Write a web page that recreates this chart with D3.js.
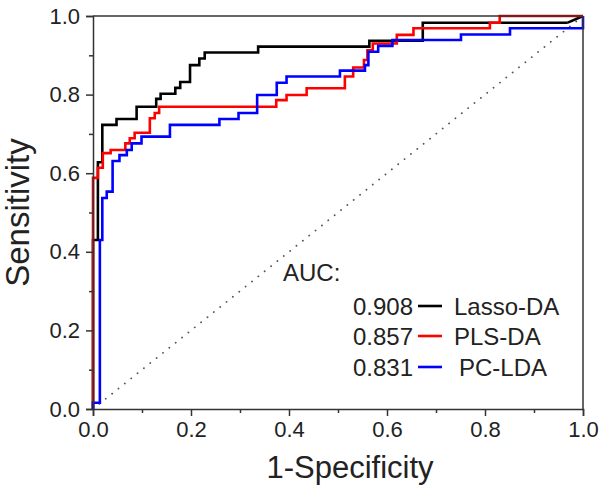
<!DOCTYPE html>
<html>
<head>
<meta charset="utf-8">
<script src="https://cdn.jsdelivr.net/npm/d3@7"></script>
<style>
  html, body { margin: 0; padding: 0; background: #fff; }
  svg { display: block; }
  text { font-family: "Liberation Sans", Arial, sans-serif; fill: #222; }
</style>
</head>
<body>
<svg id="chart" width="600" height="488"></svg>
<script>
// ---- data (ROC rise points: fpr, tpr after each vertical rise) ----
const lassoFpr = [0, 0, 0.01, 0.019, 0.048, 0.089, 0.129, 0.138, 0.168, 0.178, 0.198, 0.217, 0.228, 0.337, 0.564, 0.673, 0.969];
const lassoTpr = [0, 0.43, 0.628, 0.723, 0.738, 0.769, 0.789, 0.802, 0.817, 0.832, 0.875, 0.892, 0.907, 0.922, 0.937, 0.983, 0.983];
const lassoEndFpr = [0.969, 1];
const lassoEndTpr = [0.983, 1];

const plsFpr = [0, 0, 0.01, 0.02, 0.036, 0.066, 0.075, 0.085, 0.116, 0.126, 0.135, 0.374, 0.395, 0.436, 0.514, 0.531, 0.553, 0.56, 0.571, 0.62, 0.654, 0.81, 0.83, 1];
const plsTpr = [0, 0.588, 0.614, 0.651, 0.659, 0.676, 0.689, 0.703, 0.74, 0.753, 0.769, 0.786, 0.799, 0.816, 0.846, 0.869, 0.888, 0.913, 0.93, 0.952, 0.969, 0.983, 1, 1];

const pcFpr = [0, 0, 0.014, 0.019, 0.028, 0.04, 0.054, 0.069, 0.079, 0.099, 0.157, 0.258, 0.297, 0.335, 0.375, 0.395, 0.504, 0.555, 0.562, 0.582, 0.611, 0.751, 0.851, 1];
const pcTpr = [0, 0.016, 0.43, 0.537, 0.553, 0.631, 0.646, 0.659, 0.676, 0.693, 0.723, 0.738, 0.753, 0.799, 0.83, 0.846, 0.861, 0.875, 0.909, 0.924, 0.939, 0.953, 0.969, 1];

const chanceLine = [0, 1];

const majorTicks = [0, 0.2, 0.4, 0.6, 0.8, 1.0];
const minorTicks = [0.1, 0.3, 0.5, 0.7, 0.9];

const legendAUC = ["0.908", "0.857", "0.831"];
const legendNames = ["Lasso-DA", "PLS-DA", "PC-LDA"];
const legendColors = ["#000000", "#ff0000", "#0000ff"];

// ---- layout ----
const svg = d3.select("#chart");
const L = 93, R = 583, T = 16, B = 409;
const x = d3.scaleLinear().domain([0, 1]).range([L, R]);
const y = d3.scaleLinear().domain([0, 1]).range([B, T]);
const axisColor = "#333";

// chance diagonal
svg.append("path")
  .attr("d", d3.line().x(d => x(d)).y(d => y(d))(chanceLine))
  .attr("fill", "none").attr("stroke", "#555").attr("stroke-width", 1.8)
  .attr("stroke-linecap", "round")
  .attr("stroke-dasharray", "0.1,8.05");

function zipPts(f, t) { return f.map((v, i) => [v, t[i]]); }
const stepLine = d3.line().x(d => x(d[0])).y(d => y(d[1])).curve(d3.curveStepAfter);
const linLine = d3.line().x(d => x(d[0])).y(d => y(d[1]));

const lw = 2.6;
// Lasso-DA
svg.append("path").attr("d", stepLine(zipPts(lassoFpr, lassoTpr)))
  .attr("fill", "none").attr("stroke", legendColors[0]).attr("stroke-width", lw);
svg.append("path").attr("d", linLine(zipPts(lassoEndFpr, lassoEndTpr)))
  .attr("fill", "none").attr("stroke", legendColors[0]).attr("stroke-width", lw);
// PLS-DA
svg.append("path").attr("d", stepLine(zipPts(plsFpr, plsTpr)))
  .attr("fill", "none").attr("stroke", legendColors[1]).attr("stroke-width", lw);
// PC-LDA
svg.append("path").attr("d", stepLine(zipPts(pcFpr, pcTpr)))
  .attr("fill", "none").attr("stroke", legendColors[2]).attr("stroke-width", lw);

// frame (top & right)
svg.append("line").attr("x1", L).attr("x2", R).attr("y1", T).attr("y2", T)
  .attr("stroke", axisColor).attr("stroke-width", 1.5);
svg.append("line").attr("x1", R).attr("x2", R).attr("y1", T).attr("y2", B)
  .attr("stroke", axisColor).attr("stroke-width", 1.5);

// axes
const fmt = d3.format(".1f");
const xAxis = svg.append("g").attr("transform", `translate(0,${B})`)
  .call(d3.axisBottom(x).tickValues(majorTicks).tickFormat(fmt).tickSize(7).tickPadding(5));
const xMinor = svg.append("g").attr("transform", `translate(0,${B})`)
  .call(d3.axisBottom(x).tickValues(minorTicks).tickFormat("").tickSize(4));
const yAxis = svg.append("g").attr("transform", `translate(${L},0)`)
  .call(d3.axisLeft(y).tickValues(majorTicks).tickFormat(fmt).tickSize(7).tickPadding(6));
const yMinor = svg.append("g").attr("transform", `translate(${L},0)`)
  .call(d3.axisLeft(y).tickValues(minorTicks).tickFormat("").tickSize(4));

[xAxis, xMinor, yAxis, yMinor].forEach(g => {
  g.select(".domain").attr("stroke", axisColor).attr("stroke-width", 1.5);
  g.selectAll(".tick line").attr("stroke", axisColor).attr("stroke-width", 1.5);
  g.selectAll(".tick text").attr("fill", "#222")
    .style("font-family", '"Liberation Sans", Arial, sans-serif').style("font-size", "22px");
});
xMinor.select(".domain").remove();
yMinor.select(".domain").remove();

// axis titles
svg.append("text").attr("x", (L + R) / 2 + 12).attr("y", 478)
  .attr("text-anchor", "middle").style("font-size", "31px").text("1-Specificity");
svg.append("text").attr("transform", `translate(29,${(T + B) / 2}) rotate(-90)`)
  .attr("text-anchor", "middle").style("font-size", "33px").text("Sensitivity");

// legend
svg.append("text").attr("x", 283).attr("y", 281).style("font-size", "24px").text("AUC:");
const legY = [306, 336, 367];
legendNames.forEach((name, i) => {
  svg.append("text").attr("x", 413).attr("y", legY[i]).attr("dy", "0.36em")
    .attr("text-anchor", "end").style("font-size", "24px").text(legendAUC[i]);
  svg.append("line").attr("x1", 418).attr("x2", 442).attr("y1", legY[i]).attr("y2", legY[i])
    .attr("stroke", legendColors[i]).attr("stroke-width", lw);
  svg.append("text").attr("x", i === 2 ? 459 : 454).attr("y", legY[i]).attr("dy", "0.36em")
    .style("font-size", "24px").text(name);
});
</script>
</body>
</html>
